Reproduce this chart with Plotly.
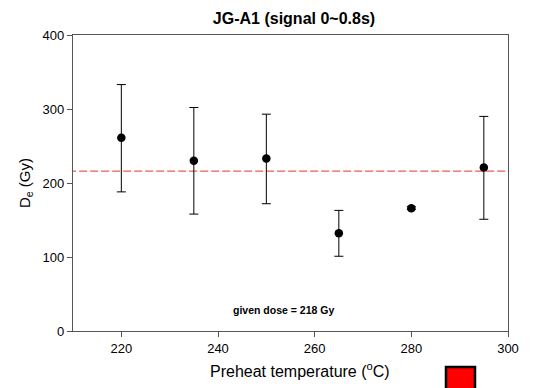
import plotly.graph_objects as go

# Data
temps = [220, 235, 250, 265, 280, 295]
de = [261, 230, 233, 132, 166, 221]
err_plus = [72, 72, 60, 31, 2, 69]
err_minus = [73, 72, 61, 31, 2, 70]
given_dose_line = 216
x_ticks = [220, 240, 260, 280, 300]
y_ticks = [0, 100, 200, 300, 400]

W, H = 534, 388
ml, mr, mt, mb = 73, 26, 35, 57
FONT = "Liberation Sans, Arial, sans-serif"
pw = W - ml - mr
ph = H - mt - mb

fig = go.Figure()
fig.add_trace(go.Scatter(
    x=[209, 300], y=[given_dose_line, given_dose_line], mode="lines",
    line=dict(color="#f05a5a", width=1.3, dash="8px,3px"), showlegend=False,
    cliponaxis=False,
))
fig.add_trace(go.Scatter(
    x=temps, y=de, mode="markers",
    marker=dict(color="black", size=8.5),
    error_y=dict(type="data", symmetric=False, array=err_plus, arrayminus=err_minus,
                 color="black", thickness=1, width=4.5),
    showlegend=False,
))

axis_common = dict(showline=True, linecolor="#555", linewidth=1.3, mirror=True,
                   showgrid=False, zeroline=False, ticks="outside", ticklen=5,
                   tickcolor="#555", tickfont=dict(family=FONT, size=13, color="black"))
fig.update_xaxes(range=[210, 300], tickvals=x_ticks, **axis_common)
fig.update_yaxes(range=[0, 400], tickvals=y_ticks, **axis_common,
                 title=dict(text="D<sub>e</sub> (Gy)", standoff=8,
                            font=dict(family=FONT, size=15, color="black")))

fig.update_layout(
    width=W, height=H, margin=dict(l=ml, r=mr, t=mt, b=mb),
    plot_bgcolor="white", paper_bgcolor="white",
    title=dict(text="<b>JG-A1 (signal 0~0.8s)</b>", x=294 / W, xanchor="center",
               y=1 - 18 / H, yanchor="middle",
               font=dict(family=FONT, size=16, color="black")),
    annotations=[
        dict(text="<b>given dose = 218 Gy</b>", x=253.5, y=28, xref="x", yref="y",
             showarrow=False, font=dict(family=FONT, size=10.5, color="black")),
        dict(text="Preheat temperature (<sup>o</sup>C)", x=(300 - ml) / pw, y=-(370 - (H - mb)) / ph,
             xref="paper", yref="paper", xanchor="center", yanchor="middle",
             showarrow=False, font=dict(family=FONT, size=16, color="black")),
    ],
    shapes=[dict(type="rect", xref="paper", yref="paper",
                 x0=(446 - ml) / pw, x1=(475 - ml) / pw,
                 y0=-(392 - (H - mb)) / ph, y1=-(367 - (H - mb)) / ph,
                 fillcolor="red", line=dict(color="black", width=2.5))],
)

fig.write_html("out.html")
